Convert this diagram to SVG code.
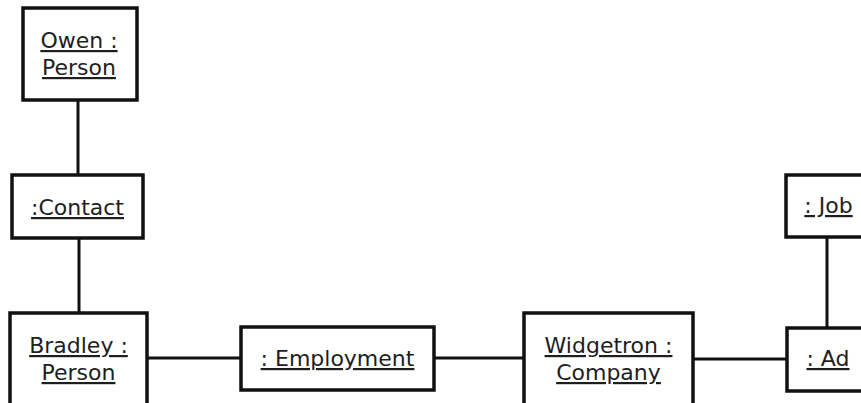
<svg xmlns="http://www.w3.org/2000/svg" width="861" height="403" viewBox="0 0 861 403">
  <style>
    .box { fill: #ffffff; stroke: #111111; stroke-width: 3.5; }
    .link { stroke: #111111; stroke-width: 3; fill: none; }
    .lbl { font-family: "DejaVu Sans", Verdana, sans-serif; font-size: 22px; fill: #1e1e1e; text-anchor: middle; text-decoration: underline; }
  </style>
  <rect x="0" y="0" width="861" height="403" fill="#ffffff"/>

  <!-- associations between objects -->
  <g id="connectors">
    <line class="link" x1="78" y1="100" x2="78" y2="175"/>
    <line class="link" x1="79" y1="238" x2="79" y2="313"/>
    <line class="link" x1="147" y1="358" x2="241" y2="358"/>
    <line class="link" x1="434" y1="358" x2="524" y2="358"/>
    <line class="link" x1="693" y1="359" x2="787" y2="359"/>
    <line class="link" x1="827" y1="237" x2="827" y2="328"/>
  </g>

  <g id="owen">
    <rect class="box" x="23" y="8" width="114" height="92"/>
    <text class="lbl" x="79" y="48">Owen :</text>
    <text class="lbl" x="79" y="75">Person</text>
  </g>

  <g id="contact">
    <rect class="box" x="12" y="175" width="131" height="63"/>
    <text class="lbl" x="77.5" y="215">:Contact</text>
  </g>

  <g id="bradley">
    <rect class="box" x="10" y="313" width="137" height="110"/>
    <text class="lbl" x="78.5" y="353">Bradley :</text>
    <text class="lbl" x="78.5" y="380">Person</text>
  </g>

  <g id="employment">
    <rect class="box" x="241" y="327" width="193" height="63"/>
    <text class="lbl" x="337.5" y="366">: Employment</text>
  </g>

  <g id="widgetron">
    <rect class="box" x="524" y="313" width="169" height="110"/>
    <text class="lbl" x="608.5" y="353">Widgetron :</text>
    <text class="lbl" x="608.5" y="380">Company</text>
  </g>

  <g id="job">
    <rect class="box" x="786" y="175" width="85" height="62"/>
    <text class="lbl" x="828.5" y="213">: Job</text>
  </g>

  <g id="ad">
    <rect class="box" x="787" y="328" width="82" height="63"/>
    <text class="lbl" x="828" y="366">: Ad</text>
  </g>
</svg>
